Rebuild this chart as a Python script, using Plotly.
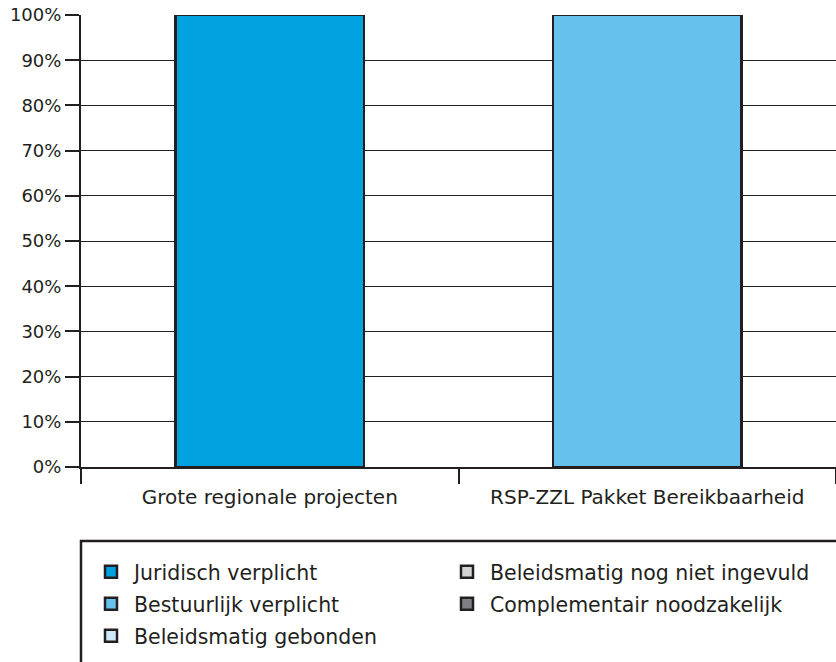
import plotly.graph_objects as go

categories = ["Grote regionale projecten", "RSP-ZZL Pakket Bereikbaarheid"]
series_names = [
    "Juridisch verplicht",
    "Bestuurlijk verplicht",
    "Beleidsmatig gebonden",
    "Beleidsmatig nog niet ingevuld",
    "Complementair noodzakelijk",
]
juridisch = [100, 0]
bestuurlijk = [0, 100]
gebonden = [0, 0]
niet_ingevuld = [0, 0]
complementair = [0, 0]
series_values = [juridisch, bestuurlijk, gebonden, niet_ingevuld, complementair]
colors = ["#00a3e0", "#66c2ec", "#cfe8f8", "#d2d3d5", "#7f8083"]
y_ticks = list(range(0, 101, 10))

W, H = 836, 662
L, R, T, B = 81, 0, 15, 195
pw, ph = W - L - R, H - T - B
DARK = "#231f20"
FONT = "DejaVu Sans"


def px_to_paper_x(px):
    return (px - L) / pw


def py_to_paper_y(py):
    return (H - B - py) / ph


# legend positions (pixel coords of item origins, container coords)
legend_pos = [(88, 572), (88, 604), (88, 636), (444, 572), (444, 604)]

fig = go.Figure()
legend_layouts = {}
for i, (name, vals, col) in enumerate(zip(series_names, series_values, colors)):
    lname = "legend" if i == 0 else f"legend{i+1}"
    fig.add_trace(go.Bar(
        x=categories, y=vals, name=name,
        marker=dict(color=col, line=dict(color=DARK, width=2.5)),
        width=0.5, legend=lname, hoverinfo="skip",
    ))
    lx, ly = legend_pos[i]
    legend_layouts[lname] = dict(
        x=lx / W, y=1 - ly / H,
        xref="container", yref="container",
        xanchor="left", yanchor="middle",
        bgcolor="rgba(0,0,0,0)", borderwidth=0,
        font=dict(family=FONT, size=20.5, color=DARK),
        itemwidth=36, itemclick=False, itemdoubleclick=False,
    )

fig.update_layout(
    width=W, height=H,
    margin=dict(l=L, r=R, t=T, b=B, pad=0, autoexpand=False),
    paper_bgcolor="white", plot_bgcolor="white",
    barmode="stack", bargap=0.5,
    showlegend=True,
    font=dict(family=FONT, size=18, color=DARK),
    **legend_layouts,
)

fig.update_xaxes(
    type="category", range=[-0.5, 1.5],
    showgrid=False, showline=True, linecolor=DARK, linewidth=2,
    ticks="outside", tickson="boundaries", ticklen=15, tickwidth=1.5, tickcolor=DARK,
    tickfont=dict(family=FONT, size=20, color=DARK),
    ticklabelstandoff=11,
    zeroline=False,
)
fig.update_yaxes(
    range=[0, 100], tickvals=y_ticks, ticktext=[f"{v}%" for v in y_ticks],
    showgrid=True, gridcolor=DARK, gridwidth=1,
    showline=True, linecolor=DARK, linewidth=2,
    ticks="outside", ticklen=14, tickwidth=1.5, tickcolor=DARK,
    tickfont=dict(family=FONT, size=18, color=DARK),
    zeroline=False,
)

# legend frame
fig.add_shape(
    type="rect", xref="paper", yref="paper",
    x0=px_to_paper_x(81), x1=px_to_paper_x(W + 20),
    y0=py_to_paper_y(541), y1=py_to_paper_y(H + 20),
    line=dict(color=DARK, width=2.5), fillcolor="rgba(0,0,0,0)",
    layer="above",
)

fig.write_html(
    "out.html",
    config={"displayModeBar": False},
    post_script="document.body.style.margin='0';document.body.style.overflow='hidden';",
)
